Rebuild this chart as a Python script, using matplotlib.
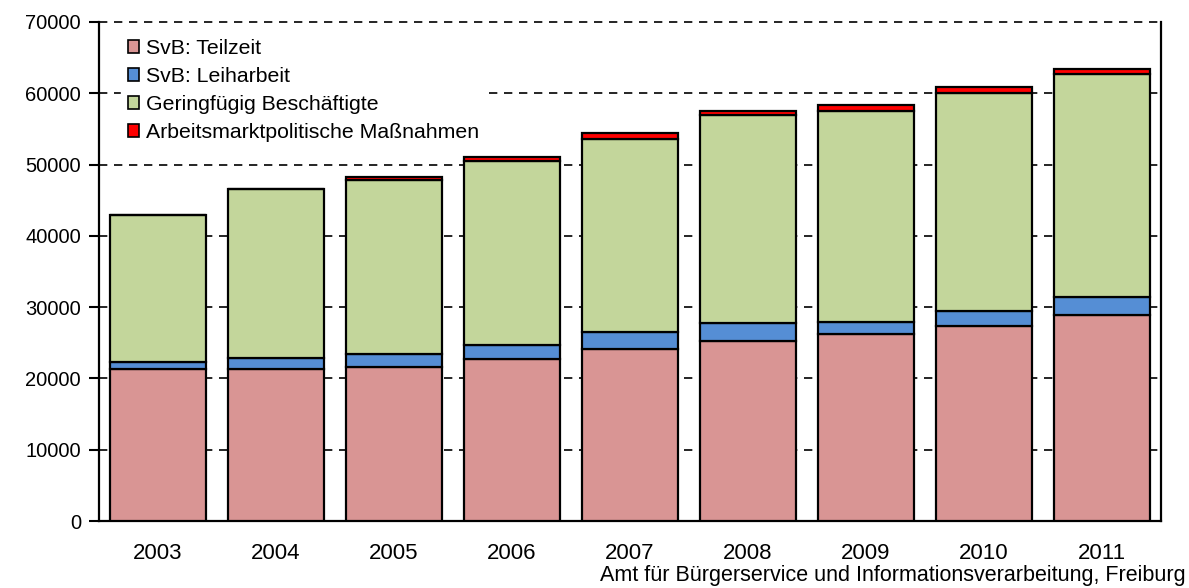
import matplotlib
matplotlib.use("Agg")
import matplotlib.pyplot as plt
import numpy as np

plt.rcParams['font.family'] = ['Liberation Sans', 'DejaVu Sans']

years = ["2003", "2004", "2005", "2006", "2007", "2008", "2009", "2010", "2011"]
teilzeit = [21360, 21360, 21640, 22760, 24170, 25250, 26180, 27300, 28930]
leiharbeit = [890, 1500, 1740, 1920, 2290, 2560, 1690, 2200, 2530]
geringfuegig = [20710, 23750, 24450, 25810, 27070, 29090, 29630, 30480, 31270]
massnahmen = [0, 0, 460, 610, 930, 600, 840, 930, 660]

series_labels = ["SvB: Teilzeit", "SvB: Leiharbeit",
                 "Geringfügig Beschäftigte", "Arbeitsmarktpolitische Maßnahmen"]
series_colors = ["#D99594", "#558ED5", "#C3D69B", "#FF0000"]
yticks = [0, 10000, 20000, 30000, 40000, 50000, 60000, 70000]

fig = plt.figure(figsize=(11.89, 5.88), dpi=100)
ax = fig.add_axes([0.0833, 0.1139, 0.8932, 0.8487])

x = np.arange(len(years))
bottom = np.zeros(len(years))
for vals, lab, col in zip([teilzeit, leiharbeit, geringfuegig, massnahmen],
                          series_labels, series_colors):
    v = np.array(vals, dtype=float)
    ax.bar(x, v, bottom=bottom, width=0.82, color=col, edgecolor="black",
           linewidth=1.6, label=lab, zorder=3)
    bottom += v

ax.set_xlim(-0.5, len(years) - 0.5)
ax.set_ylim(0, 70000)
ax.set_yticks(yticks)
ax.set_yticklabels([str(t) for t in yticks], fontsize=14.5)
ax.set_xticks(x)
ax.set_xticklabels(years, fontsize=16)
ax.tick_params(axis="x", length=0, pad=16)
ax.tick_params(axis="y", direction="out", length=7, width=1.5, pad=6)

ax.yaxis.grid(True, color="black", linestyle=(0, (5, 4)), linewidth=1.2, zorder=0)
for gl in ax.get_ygridlines():
    gl.set_clip_on(False)
ax.set_axisbelow(True)

ax.spines["top"].set_visible(False)
for side in ["left", "right", "bottom"]:
    ax.spines[side].set_linewidth(1.6)
    ax.spines[side].set_color("black")

leg = ax.legend(loc="upper left", bbox_to_anchor=(0.021, 0.979), frameon=True,
                fontsize=15.3, handlelength=0.55, handleheight=0.55,
                handletextpad=0.3, labelspacing=0.42, borderpad=0.3,
                fancybox=False, borderaxespad=0)
leg.get_frame().set_edgecolor("white")
leg.get_frame().set_facecolor("white")
leg.get_frame().set_alpha(1)
for h in leg.legend_handles:
    h.set_linewidth(1.2)

fig.text(0.997, 0.003, "Amt für Bürgerservice und Informationsverarbeitung, Freiburg",
         ha="right", va="bottom", fontsize=15.5)

fig.savefig("out.png", dpi=100)
